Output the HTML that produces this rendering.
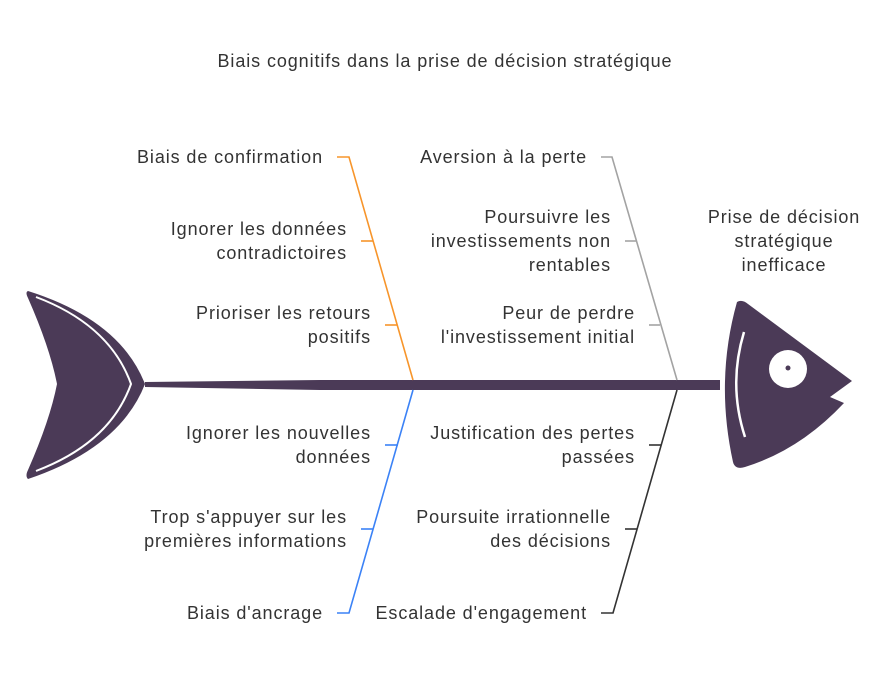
<!DOCTYPE html>
<html><head><meta charset="utf-8"><style>
html,body{margin:0;padding:0;background:#fff}
svg text{font-family:"Liberation Sans",sans-serif;font-size:18px;letter-spacing:0.9px;fill:#333}
</style></head><body>
<svg width="896" height="674" viewBox="0 0 896 674" xmlns="http://www.w3.org/2000/svg">
<text x="445" y="67" text-anchor="middle">Biais cognitifs dans la prise de décision stratégique</text>
<!-- tail -->
<path d="M28,291 Q120,320 145,384 Q120,448 28,479 Q25,476 28,470 Q50,420 57,384 Q50,348 28,298 Q25,292 28,291 Z" fill="#4b3a57"/>
<path d="M36,297 Q110,325 131,384 Q110,443 36,471" fill="none" stroke="#fff" stroke-width="2"/>
<!-- spine -->
<polygon points="145,382 320,380 720,380 720,390 320,390 145,387" fill="#4b3a57"/>
<!-- head -->
<path d="M737,302 Q742,299 748,304 L852,381 L830,397 L844,403 Q800,450 745,467 Q735,470 733,462 Q715,380 737,302 Z" fill="#4b3a57"/>
<path d="M744,332 Q728,385 745,437" fill="none" stroke="#fff" stroke-width="2.5"/>
<circle cx="788" cy="369" r="19" fill="#fff"/>
<circle cx="788" cy="368" r="2.5" fill="#4b3a57"/>
<g stroke="#f7952b" stroke-width="1.6" fill="none">
<polyline points="337,157 349,157 413,380"/>
<line x1="361" y1="241" x2="373" y2="241"/>
<line x1="385" y1="325" x2="397" y2="325"/>
</g>
<g stroke="#3b82f6" stroke-width="1.6" fill="none">
<polyline points="413,390 349,613 337,613"/>
<line x1="385" y1="445" x2="398" y2="445"/>
<line x1="361" y1="529" x2="373" y2="529"/>
</g>
<g stroke="#a3a3a3" stroke-width="1.6" fill="none">
<polyline points="601,157 612,157 677,380"/>
<line x1="625" y1="241" x2="636" y2="241"/>
<line x1="649" y1="325" x2="660" y2="325"/>
</g>
<g stroke="#333" stroke-width="1.6" fill="none">
<polyline points="677,390 613,613 601,613"/>
<line x1="649" y1="445" x2="661" y2="445"/>
<line x1="625" y1="529" x2="637" y2="529"/>
</g>
<g text-anchor="end">
<text x="323" y="163">Biais de confirmation</text>
<text x="347" y="235">Ignorer les données</text>
<text x="347" y="259">contradictoires</text>
<text x="371" y="319">Prioriser les retours</text>
<text x="371" y="343">positifs</text>
<text x="371" y="439">Ignorer les nouvelles</text>
<text x="371" y="463">données</text>
<text x="347" y="523">Trop s'appuyer sur les</text>
<text x="347" y="547">premières informations</text>
<text x="323" y="619">Biais d'ancrage</text>
<text x="587" y="163">Aversion à la perte</text>
<text x="611" y="223">Poursuivre les</text>
<text x="611" y="247">investissements non</text>
<text x="611" y="271">rentables</text>
<text x="635" y="319">Peur de perdre</text>
<text x="635" y="343">l'investissement initial</text>
<text x="635" y="439">Justification des pertes</text>
<text x="635" y="463">passées</text>
<text x="611" y="523">Poursuite irrationnelle</text>
<text x="611" y="547">des décisions</text>
<text x="587" y="619">Escalade d'engagement</text>
</g>
<g text-anchor="middle">
<text x="784" y="223">Prise de décision</text>
<text x="784" y="247">stratégique</text>
<text x="784" y="271">inefficace</text>
</g>
</svg>
</body></html>
